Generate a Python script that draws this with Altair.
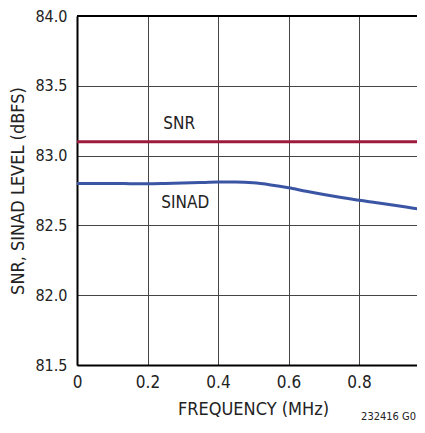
import altair as alt
import pandas as pd

FONT = "Liberation Sans Narrow, DejaVu Sans Condensed, sans-serif"

freq = [0.0, 0.05, 0.1, 0.15, 0.2, 0.25, 0.3, 0.35, 0.4, 0.45, 0.5, 0.55, 0.6,
        0.65, 0.7, 0.75, 0.8, 0.85, 0.9, 0.95, 1.0]
sinad = [82.800, 82.800, 82.800, 82.799, 82.798, 82.800, 82.803, 82.807, 82.810,
         82.810, 82.805, 82.790, 82.770, 82.745, 82.722, 82.700, 82.680, 82.663,
         82.645, 82.625, 82.605]
snr_freq = [0.0, 1.0]
snr = [83.1, 83.1]

labels = ["SNR", "SINAD"]
label_x = [0.29, 0.307]
label_y = [83.224, 82.66]

x_ticks = [0.0, 0.2, 0.4, 0.6, 0.8]
y_ticks = [81.5, 82.0, 82.5, 83.0, 83.5, 84.0]

W, H = 340, 349
XMAX = 340 / 352.5

df_sinad = pd.DataFrame({"f": freq, "v": sinad})
df_snr = pd.DataFrame({"f": snr_freq, "v": snr})
df_lab = pd.DataFrame({"t": labels, "f": label_x, "v": label_y})

xscale = alt.Scale(domain=[0, XMAX], nice=False, zero=False)
yscale = alt.Scale(domain=[81.5, 84.0], nice=False, zero=False)

xaxis = alt.Axis(
    values=x_ticks,
    labelExpr="datum.value == 0 ? '0' : format(datum.value, '.1f')",
    title="FREQUENCY (MHz)",
    titleX=176, titleY=44, titleBaseline="middle", titleAlign="center",
    titleFont=FONT, titleFontSize=18, titleFontWeight="normal", titleColor="#222",
    labelFont=FONT, labelFontSize=17, labelColor="#222", labelPadding=9,
    ticks=False, grid=True, gridColor="#444", gridWidth=1,
    domain=True, domainColor="#000", domainWidth=2, labelFlush=False,
)
yaxis = alt.Axis(
    values=y_ticks, format=".1f",
    title="SNR, SINAD LEVEL (dBFS)",
    titleX=-59, titleY=H / 2, titleAngle=270, titleBaseline="middle", titleAlign="center",
    titleFont=FONT, titleFontSize=18, titleFontWeight="normal", titleColor="#222",
    labelFont=FONT, labelFontSize=16, labelColor="#222", labelPadding=10,
    ticks=False, grid=True, gridColor="#444", gridWidth=1,
    domain=True, domainColor="#000", domainWidth=2,
)

base_x = alt.X("f:Q", scale=xscale, axis=xaxis)
base_y = alt.Y("v:Q", scale=yscale, axis=yaxis)

sinad_line = alt.Chart(df_sinad).mark_line(
    color="#3a55a4", strokeWidth=3, interpolate="monotone", clip=True
).encode(x=base_x, y=base_y)

snr_line = alt.Chart(df_snr).mark_line(
    color="#9e1a3c", strokeWidth=3, clip=True
).encode(x=alt.X("f:Q", scale=xscale), y=alt.Y("v:Q", scale=yscale))

top_border = alt.Chart(pd.DataFrame({"v": [84.0]})).mark_rule(
    color="#000", strokeWidth=2
).encode(y=alt.Y("v:Q", scale=yscale))

text = alt.Chart(df_lab).mark_text(
    font=FONT, fontSize=17, color="#222", align="center", baseline="middle"
).encode(x=alt.X("f:Q", scale=xscale), y=alt.Y("v:Q", scale=yscale), text="t:N")

note = alt.Chart(pd.DataFrame({"t": ["232416 G0"]})).mark_text(
    font=FONT, fontSize=11, color="#222", align="right", baseline="middle"
).encode(x=alt.value(W - 1), y=alt.value(401), text="t:N")

chart = alt.layer(sinad_line, snr_line, top_border, text, note).properties(
    width=W, height=H,
    autosize=alt.AutoSizeParams(type="none"),
    padding={"left": 69, "top": 8, "right": 0, "bottom": 60},
).configure_view(stroke=None).configure(background="white")

chart.save("out.html", embed_options={"renderer": "svg", "actions": False})
